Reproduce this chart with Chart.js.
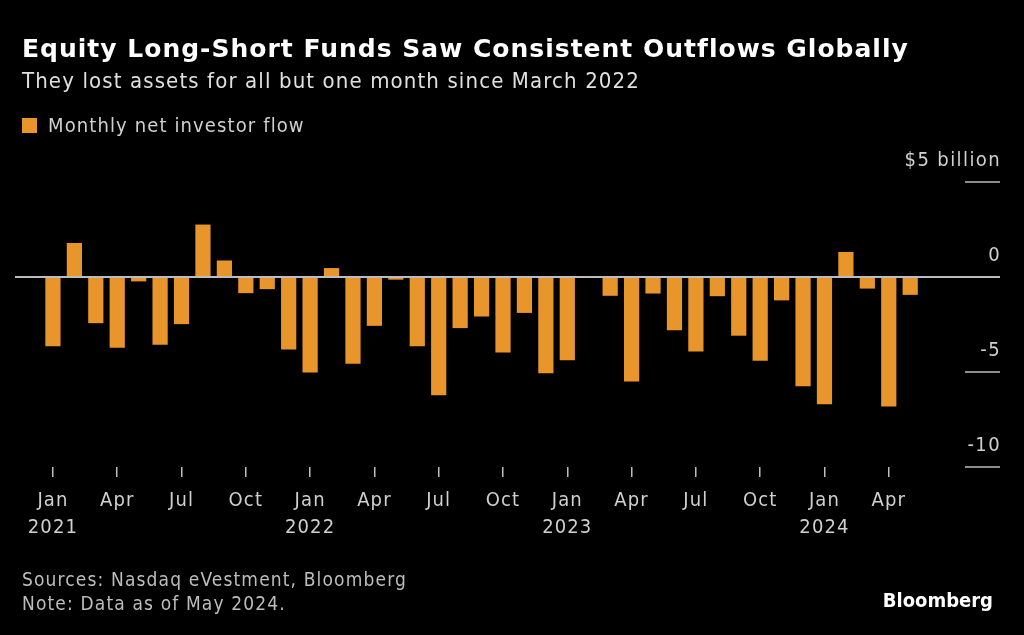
<!DOCTYPE html>
<html>
<head>
<meta charset="utf-8">
<script src="https://cdn.jsdelivr.net/npm/chart.js@4.4.1/dist/chart.umd.min.js"></script>
<style>
  html, body { margin: 0; padding: 0; background: #000; }
  body { width: 1024px; height: 635px; position: relative; overflow: hidden; font-family: "DejaVu Sans Condensed", "DejaVu Sans", sans-serif; letter-spacing: 0.07em; }
  #wrap { position: absolute; left: 0; top: 0; width: 1024px; height: 635px; }
  .title { position: absolute; left: 22px; top: 34px; color: #fff; font-family: "DejaVu Sans", sans-serif; font-weight: bold; font-size: 25px; letter-spacing: 0.04em; }
  .sub { position: absolute; left: 22px; top: 68px; color: #e0e0e0; font-size: 22px; }
  .legend { position: absolute; left: 22px; top: 113px; color: #d0d0d0; font-size: 20px; }
  .legend span.box { display: inline-block; width: 15px; height: 15px; background: #e8952c; margin-right: 11px; vertical-align: -1px; }
  .foot { position: absolute; left: 22px; top: 567px; color: #bdbdbd; font-size: 19px; line-height: 24px; letter-spacing: 0.06em; }
  .logo { position: absolute; right: 31px; top: 588px; color: #fff; font-weight: bold; font-size: 20px; letter-spacing: 0; }
</style>
</head>
<body>
<div id="wrap"><canvas id="chart-bar-1" width="1024" height="635"></canvas></div>
<div class="title">Equity Long-Short Funds Saw Consistent Outflows Globally</div>
<div class="sub">They lost assets for all but one month since March 2022</div>
<div class="legend"><span class="box"></span>Monthly net investor flow</div>
<div class="foot">Sources: Nasdaq eVestment, Bloomberg<br>Note: Data as of May 2024.</div>
<div class="logo">Bloomberg</div>
<script>
// months Jan 2021 .. May 2024
var months = ['Jan','Feb','Mar','Apr','May','Jun','Jul','Aug','Sep','Oct','Nov','Dec'];
var years = [2021, 2022, 2023, 2024];
// monthly net investor flow, $ billion
var flows = [
  -3.65, 1.79, -2.43, -3.73, -0.23, -3.56, -2.48, 2.76, 0.87, -0.85, -0.64, -3.82,
  -5.02, 0.47, -4.57, -2.57, -0.14, -3.65, -6.22, -2.69, -2.08, -3.98, -1.89, -5.07,
  -4.38, -0.05, -0.99, -5.5, -0.87, -2.8, -3.92, -1.01, -3.09, -4.41, -1.23, -5.75,
  -6.7, 1.32, -0.61, -6.82, -0.94
];
var xTickIdx = [0, 3, 6, 9, 12, 15, 18, 21, 24, 27, 30, 33, 36, 39];
var yTicks = [5, 0, -5, -10];
var yTickLabels = ['$5 billion', '0', '-5', '-10'];

var points = flows.map(function(v, i) { return { x: i, y: v }; });

var spacing = {
    id: 'spacing',
    beforeInit: function(chart) { chart.ctx.letterSpacing = '1.4px'; }
};

var rightAxis = {
    id: 'rightAxis',
    afterDatasetsDraw: function(chart) {
        var ctx = chart.ctx;
        var a = chart.chartArea;
        var ys = chart.scales.y;
        ctx.save();
        // zero line across the chart
        var y0 = ys.getPixelForValue(0);
        ctx.strokeStyle = '#bdbdbd';
        ctx.lineWidth = 2;
        ctx.beginPath();
        ctx.moveTo(a.left, y0);
        ctx.lineTo(a.right, y0);
        ctx.stroke();
        ctx.font = '20px "DejaVu Sans Condensed", "DejaVu Sans", sans-serif';
        ctx.letterSpacing = '1.4px';
        ctx.fillStyle = '#d0d0d0';
        ctx.textAlign = 'right';
        ctx.textBaseline = 'middle';
        yTicks.forEach(function(v, i) {
            var y = ys.getPixelForValue(v);
            if (v !== 0) {
                ctx.strokeStyle = '#bdbdbd';
                ctx.lineWidth = 1.5;
                ctx.beginPath();
                ctx.moveTo(a.right - 35, y);
                ctx.lineTo(a.right, y);
                ctx.stroke();
            }
            ctx.fillText(yTickLabels[i], a.right + 1, y - 21);
        });
        ctx.restore();
    }
};

var bar = document.getElementById('chart-bar-1').getContext('2d');
var myBarChart = new Chart(bar, {
    type: 'bar',
    data: {
        datasets: [{
            label: 'Monthly net investor flow',
            data: points,
            backgroundColor: '#e8952c',
            borderWidth: 0,
            barPercentage: 1,
            categoryPercentage: 0.71
        }]
    },
    options: {
        responsive: false,
        animation: false,
        layout: { padding: { left: 15, right: 24, top: 182, bottom: 88 } },
        plugins: { legend: { display: false }, tooltip: { enabled: false } },
        scales: {
            x: {
                type: 'linear',
                offset: false,
                min: -1.77,
                max: 44.19,
                afterBuildTicks: function(axis) {
                    axis.ticks = xTickIdx.map(function(v) { return { value: v }; });
                },
                afterFit: function(axis) { axis.height = 80; },
                border: { display: false },
                grid: { offset: false, drawOnChartArea: false, drawTicks: true, tickLength: 10, color: '#bdbdbd', lineWidth: 1.5 },
                ticks: {
                    autoSkip: false,
                    maxRotation: 0,
                    padding: 10,
                    color: '#d0d0d0',
                    font: { family: '"DejaVu Sans Condensed", "DejaVu Sans", sans-serif', size: 20, lineHeight: 1.35 },
                    callback: function(v) {
                        var m = months[v % 12];
                        if (v % 12 === 0) return [m, String(years[Math.floor(v / 12)])];
                        return m;
                    }
                }
            },
            y: {
                display: false,
                min: -10,
                max: 5
            }
        }
    },
    plugins: [spacing, rightAxis]
});
</script>
</body>
</html>
